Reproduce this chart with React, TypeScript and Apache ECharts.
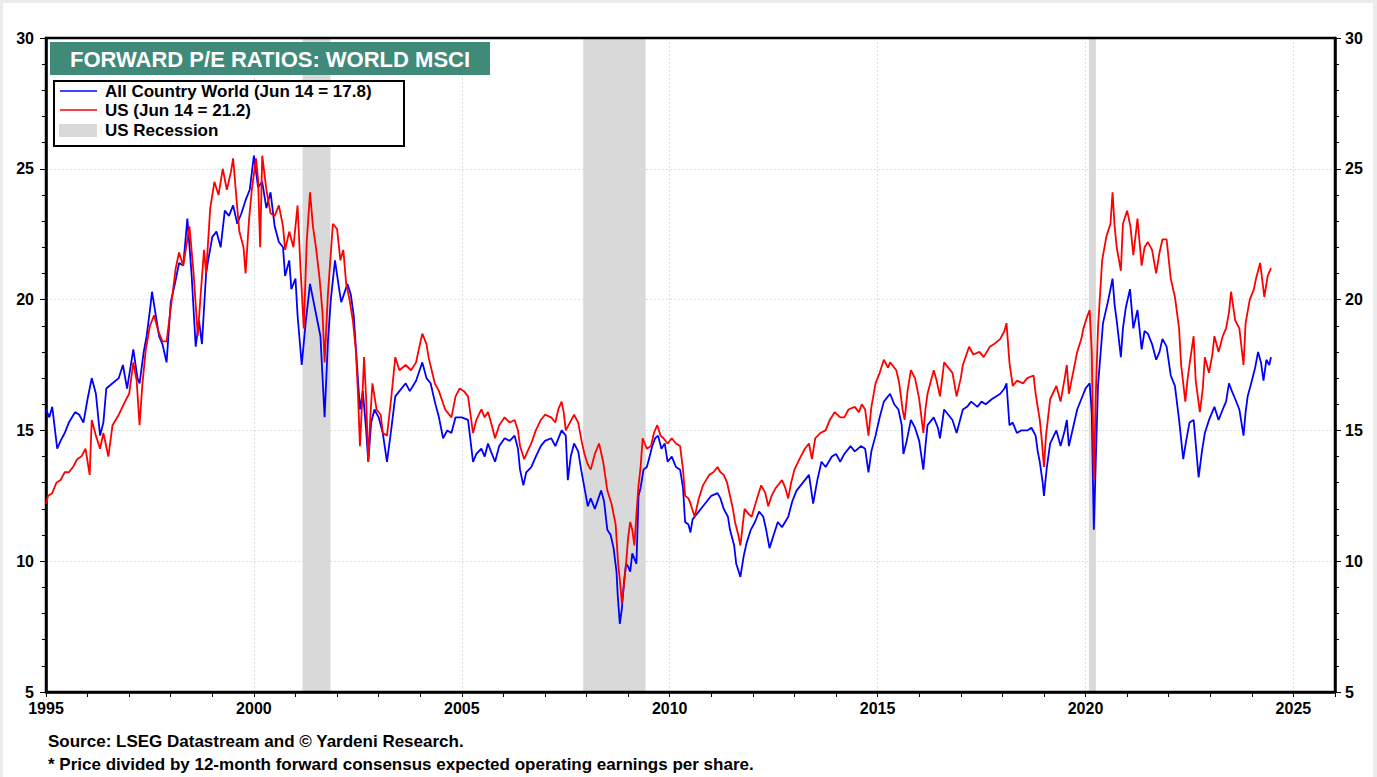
import React, { useEffect, useRef } from "react";
import * as echarts from "echarts";

// ---------- DATA (decimal year, forward P/E) ----------
const acwPoints: [number, number][] = [
  [1995.0, 15.8], [1995.08, 15.5], [1995.15, 15.9], [1995.27, 14.3], [1995.35, 14.6], [1995.45, 14.9], [1995.55, 15.3], [1995.7, 15.7], [1995.8, 15.6], [1995.9, 15.3],
  [1996.0, 16.2], [1996.1, 17.0], [1996.2, 16.4], [1996.3, 14.8], [1996.38, 15.3], [1996.45, 16.6], [1996.6, 16.8], [1996.75, 17.0], [1996.85, 17.5], [1996.95, 16.6],
  [1997.1, 18.1], [1997.2, 17.0], [1997.25, 16.8], [1997.35, 18.0], [1997.42, 18.6], [1997.5, 19.6], [1997.55, 20.3], [1997.6, 19.8], [1997.72, 18.6], [1997.8, 18.3], [1997.9, 17.6],
  [1998.0, 19.9], [1998.1, 20.6], [1998.2, 21.4], [1998.3, 21.3], [1998.4, 23.1], [1998.5, 21.0], [1998.6, 18.2], [1998.68, 19.2], [1998.75, 18.3], [1998.85, 21.0], [1998.9, 21.5],
  [1999.0, 22.4], [1999.1, 22.6], [1999.2, 22.0], [1999.3, 23.4], [1999.4, 23.2], [1999.5, 23.6], [1999.6, 22.9], [1999.7, 23.3], [1999.8, 23.8], [1999.9, 24.2],
  [2000.0, 25.5], [2000.1, 24.3], [2000.2, 24.5], [2000.3, 23.5], [2000.4, 24.1], [2000.5, 22.8], [2000.6, 22.2], [2000.7, 22.0], [2000.75, 20.9], [2000.85, 21.5], [2000.9, 20.4],
  [2001.0, 20.8], [2001.05, 19.4], [2001.15, 17.5], [2001.25, 19.2], [2001.35, 20.6], [2001.45, 19.8], [2001.5, 19.4], [2001.6, 18.6], [2001.7, 15.5], [2001.78, 18.4], [2001.85, 20.0], [2001.95, 21.5],
  [2002.05, 20.4], [2002.1, 19.9], [2002.25, 20.6], [2002.33, 20.2], [2002.4, 19.4], [2002.48, 17.5], [2002.55, 15.8], [2002.62, 16.5], [2002.7, 15.0], [2002.75, 13.8], [2002.82, 15.3], [2002.9, 15.8],
  [2003.0, 15.5], [2003.1, 14.9], [2003.2, 13.8], [2003.3, 15.0], [2003.4, 16.3], [2003.5, 16.5], [2003.65, 16.8], [2003.75, 16.5], [2003.9, 16.9],
  [2004.05, 17.6], [2004.15, 17.0], [2004.25, 16.8], [2004.35, 16.1], [2004.45, 15.5], [2004.55, 14.7], [2004.65, 15.0], [2004.75, 14.9], [2004.85, 15.5],
  [2005.0, 15.5], [2005.15, 15.4], [2005.27, 13.8], [2005.35, 14.1], [2005.47, 14.3], [2005.55, 14.0], [2005.63, 14.5], [2005.7, 14.2], [2005.8, 13.8], [2005.9, 14.4],
  [2006.03, 14.7], [2006.15, 14.6], [2006.27, 14.8], [2006.35, 14.3], [2006.4, 13.5], [2006.48, 12.9], [2006.55, 13.4], [2006.67, 13.6], [2006.78, 14.0], [2006.9, 14.4],
  [2007.0, 14.6], [2007.15, 14.7], [2007.25, 14.4], [2007.4, 15.0], [2007.5, 14.8], [2007.55, 13.1], [2007.62, 14.0], [2007.7, 14.5], [2007.8, 14.2], [2007.87, 13.5], [2007.95, 12.8],
  [2008.03, 12.1], [2008.1, 12.4], [2008.2, 12.0], [2008.35, 12.7], [2008.42, 12.3], [2008.5, 11.2], [2008.58, 11.0], [2008.65, 10.5], [2008.72, 9.6], [2008.75, 8.7], [2008.8, 7.6], [2008.85, 8.2], [2008.9, 9.2], [2008.95, 9.9],
  [2009.0, 9.8], [2009.05, 9.6], [2009.1, 10.3], [2009.15, 10.1], [2009.2, 9.9], [2009.25, 12.5], [2009.3, 12.8], [2009.37, 13.5], [2009.45, 13.6], [2009.5, 13.9], [2009.58, 14.4], [2009.65, 14.7], [2009.72, 14.8], [2009.8, 14.3], [2009.88, 14.5], [2009.95, 13.8],
  [2010.05, 14.0], [2010.15, 13.6], [2010.25, 13.5], [2010.32, 12.8], [2010.37, 11.5], [2010.45, 11.4], [2010.5, 11.1], [2010.55, 11.6], [2010.6, 11.7], [2010.7, 11.9], [2010.8, 12.1], [2010.9, 12.3],
  [2011.0, 12.5], [2011.15, 12.6], [2011.22, 12.4], [2011.3, 12.0], [2011.4, 11.7], [2011.45, 11.2], [2011.55, 10.6], [2011.6, 9.9], [2011.7, 9.4], [2011.78, 10.2], [2011.85, 10.7], [2011.95, 11.2],
  [2012.05, 11.5], [2012.15, 11.9], [2012.25, 11.7], [2012.32, 11.2], [2012.4, 10.5], [2012.5, 11.0], [2012.6, 11.5], [2012.7, 11.3], [2012.85, 11.7], [2012.95, 12.3],
  [2013.05, 12.7], [2013.15, 12.9], [2013.25, 13.1], [2013.35, 13.3], [2013.45, 12.2], [2013.55, 13.1], [2013.65, 13.8], [2013.75, 13.6], [2013.9, 14.0],
  [2014.0, 14.1], [2014.1, 13.8], [2014.2, 14.1], [2014.35, 14.4], [2014.45, 14.2], [2014.6, 14.4], [2014.7, 14.3], [2014.78, 13.4], [2014.85, 14.2], [2014.95, 14.8],
  [2015.05, 15.5], [2015.15, 16.1], [2015.3, 16.4], [2015.4, 16.0], [2015.5, 15.8], [2015.58, 15.2], [2015.62, 14.1], [2015.7, 14.6], [2015.8, 15.4], [2015.9, 15.1],
  [2016.0, 14.6], [2016.1, 13.5], [2016.15, 14.4], [2016.2, 15.2], [2016.35, 15.5], [2016.45, 15.1], [2016.5, 14.7], [2016.6, 15.8], [2016.7, 15.6], [2016.8, 15.4], [2016.9, 14.9],
  [2017.05, 15.8], [2017.15, 15.9], [2017.25, 16.1], [2017.4, 15.9], [2017.5, 16.1], [2017.6, 16.0], [2017.75, 16.2], [2017.85, 16.3], [2017.95, 16.4],
  [2018.05, 16.6], [2018.1, 16.8], [2018.17, 15.2], [2018.25, 15.3], [2018.35, 14.9], [2018.45, 15.0], [2018.6, 15.0], [2018.7, 15.1], [2018.8, 14.8], [2018.85, 14.2], [2018.9, 13.8], [2018.97, 13.0],
  [2019.0, 12.5], [2019.07, 13.6], [2019.15, 14.5], [2019.3, 15.0], [2019.4, 14.4], [2019.5, 15.0], [2019.55, 15.4], [2019.6, 14.4], [2019.7, 15.1], [2019.8, 15.8], [2019.9, 16.2],
  [2020.0, 16.6], [2020.1, 16.8], [2020.15, 15.7], [2020.2, 11.2], [2020.25, 14.0], [2020.3, 16.7], [2020.42, 19.1], [2020.55, 20.0], [2020.65, 20.8], [2020.7, 19.8], [2020.75, 19.2], [2020.85, 17.8], [2020.9, 18.9], [2020.97, 19.7],
  [2021.07, 20.4], [2021.15, 18.9], [2021.25, 19.6], [2021.35, 18.1], [2021.42, 18.8], [2021.5, 18.7], [2021.6, 18.3], [2021.7, 17.7], [2021.78, 18.0], [2021.85, 18.5], [2021.95, 18.2],
  [2022.05, 17.1], [2022.15, 16.7], [2022.25, 15.4], [2022.35, 13.9], [2022.42, 14.6], [2022.5, 15.3], [2022.6, 15.4], [2022.65, 14.5], [2022.72, 13.2], [2022.8, 14.2], [2022.87, 14.9], [2022.97, 15.4],
  [2023.1, 15.9], [2023.2, 15.4], [2023.3, 15.8], [2023.38, 16.1], [2023.45, 16.8], [2023.52, 16.5], [2023.6, 16.2], [2023.7, 15.8], [2023.8, 14.8], [2023.85, 15.7], [2023.9, 16.3],
  [2024.0, 16.9], [2024.08, 17.4], [2024.15, 18.0], [2024.22, 17.6], [2024.28, 16.9], [2024.35, 17.7], [2024.42, 17.5], [2024.46, 17.8],
];

const usPoints: [number, number][] = [
  [1995.0, 12.2], [1995.05, 12.5], [1995.15, 12.6], [1995.25, 13.0], [1995.35, 13.1], [1995.45, 13.4], [1995.55, 13.4], [1995.65, 13.6], [1995.75, 13.9], [1995.85, 14.0], [1995.95, 14.3],
  [1996.05, 13.3], [1996.1, 15.4], [1996.2, 14.8], [1996.3, 14.3], [1996.38, 14.9], [1996.5, 14.0], [1996.6, 15.2], [1996.75, 15.6], [1996.9, 16.1],
  [1997.0, 16.4], [1997.1, 17.6], [1997.18, 16.9], [1997.25, 15.2], [1997.32, 16.8], [1997.4, 18.1], [1997.5, 19.0], [1997.6, 19.4], [1997.7, 18.8], [1997.8, 18.4], [1997.9, 18.4],
  [1998.05, 20.3], [1998.12, 21.2], [1998.2, 21.8], [1998.3, 21.3], [1998.45, 22.8], [1998.55, 21.0], [1998.65, 18.6], [1998.72, 20.2], [1998.8, 21.9], [1998.85, 21.0], [1998.95, 23.5],
  [1999.05, 24.5], [1999.15, 24.0], [1999.25, 25.0], [1999.35, 24.2], [1999.45, 24.9], [1999.5, 25.4], [1999.6, 23.5], [1999.65, 22.6], [1999.75, 22.0], [1999.8, 21.0], [1999.88, 23.0], [1999.95, 24.2],
  [2000.05, 25.4], [2000.1, 24.6], [2000.15, 22.0], [2000.2, 25.5], [2000.3, 24.2], [2000.4, 23.3], [2000.5, 23.2], [2000.6, 23.6], [2000.7, 22.8], [2000.75, 21.9], [2000.85, 22.6], [2000.95, 22.0],
  [2001.05, 23.6], [2001.12, 21.2], [2001.2, 18.9], [2001.27, 22.2], [2001.35, 24.1], [2001.42, 22.8], [2001.5, 21.9], [2001.58, 20.8], [2001.65, 19.5], [2001.7, 17.6], [2001.78, 20.2], [2001.9, 22.9],
  [2002.0, 22.7], [2002.08, 21.5], [2002.15, 21.9], [2002.22, 20.6], [2002.3, 20.0], [2002.38, 19.2], [2002.45, 18.1], [2002.5, 16.5], [2002.55, 14.4], [2002.6, 16.0], [2002.65, 17.8], [2002.7, 16.2], [2002.75, 13.8], [2002.8, 15.5], [2002.85, 16.8], [2002.95, 15.8],
  [2003.05, 15.6], [2003.1, 14.9], [2003.2, 14.8], [2003.3, 16.2], [2003.4, 17.8], [2003.5, 17.3], [2003.65, 17.5], [2003.78, 17.3], [2003.9, 17.6], [2003.98, 18.2],
  [2004.05, 18.7], [2004.15, 18.3], [2004.2, 17.8], [2004.35, 16.8], [2004.45, 16.5], [2004.6, 15.8], [2004.75, 15.5], [2004.85, 16.3], [2004.95, 16.6],
  [2005.05, 16.5], [2005.15, 16.3], [2005.27, 14.9], [2005.35, 15.4], [2005.47, 15.8], [2005.55, 15.5], [2005.63, 15.7], [2005.72, 15.2], [2005.8, 14.7], [2005.9, 15.2],
  [2006.03, 15.5], [2006.15, 15.3], [2006.27, 15.4], [2006.35, 15.0], [2006.4, 14.4], [2006.5, 13.9], [2006.58, 14.2], [2006.67, 14.5], [2006.78, 15.0], [2006.9, 15.4],
  [2007.0, 15.6], [2007.15, 15.5], [2007.25, 15.3], [2007.32, 15.8], [2007.4, 16.1], [2007.45, 15.7], [2007.5, 15.0], [2007.6, 15.3], [2007.7, 15.6], [2007.8, 15.3], [2007.88, 14.6], [2007.95, 14.1],
  [2008.03, 13.7], [2008.1, 13.5], [2008.2, 14.1], [2008.3, 14.5], [2008.4, 13.8], [2008.5, 12.7], [2008.6, 12.2], [2008.7, 11.4], [2008.76, 9.9], [2008.8, 9.3], [2008.85, 8.4], [2008.9, 9.1], [2008.95, 9.9],
  [2009.0, 10.9], [2009.05, 11.5], [2009.1, 11.2], [2009.15, 10.6], [2009.2, 11.8], [2009.25, 12.9], [2009.3, 13.6], [2009.35, 14.7], [2009.45, 14.3], [2009.55, 14.4], [2009.62, 14.9], [2009.7, 15.2], [2009.78, 14.8], [2009.85, 14.7], [2009.95, 14.5],
  [2010.05, 14.7], [2010.15, 14.5], [2010.25, 14.4], [2010.32, 13.5], [2010.37, 12.5], [2010.45, 12.4], [2010.5, 12.2], [2010.6, 11.7], [2010.7, 12.4], [2010.8, 12.9], [2010.95, 13.3],
  [2011.05, 13.4], [2011.15, 13.6], [2011.22, 13.4], [2011.3, 13.3], [2011.38, 13.0], [2011.45, 12.5], [2011.52, 12.0], [2011.57, 11.5], [2011.65, 11.0], [2011.7, 10.6], [2011.75, 11.3], [2011.8, 12.0], [2011.9, 11.8], [2011.97, 11.7],
  [2012.1, 12.4], [2012.2, 12.9], [2012.3, 12.6], [2012.37, 12.1], [2012.45, 12.5], [2012.55, 12.8], [2012.7, 13.1], [2012.78, 12.8], [2012.85, 12.4], [2012.92, 13.0],
  [2013.0, 13.5], [2013.12, 13.9], [2013.25, 14.3], [2013.35, 14.5], [2013.42, 13.9], [2013.5, 14.7], [2013.62, 14.9], [2013.75, 15.0], [2013.85, 15.4], [2013.97, 15.7],
  [2014.1, 15.5], [2014.2, 15.5], [2014.3, 15.8], [2014.45, 15.9], [2014.55, 15.7], [2014.62, 16.0], [2014.7, 15.8], [2014.78, 14.8], [2014.85, 15.9], [2014.95, 16.8],
  [2015.05, 17.2], [2015.15, 17.7], [2015.25, 17.4], [2015.3, 17.6], [2015.45, 17.3], [2015.52, 16.8], [2015.6, 15.8], [2015.65, 15.4], [2015.72, 16.5], [2015.8, 17.3], [2015.9, 17.0],
  [2016.0, 16.2], [2016.1, 14.9], [2016.15, 15.8], [2016.2, 16.4], [2016.35, 17.3], [2016.42, 16.9], [2016.5, 16.3], [2016.6, 17.6], [2016.7, 17.4], [2016.8, 17.2], [2016.9, 16.3],
  [2017.0, 17.0], [2017.05, 17.5], [2017.2, 18.2], [2017.3, 17.9], [2017.45, 18.0], [2017.55, 17.8], [2017.7, 18.2], [2017.8, 18.3], [2017.95, 18.5],
  [2018.05, 18.8], [2018.1, 19.1], [2018.17, 17.6], [2018.25, 16.7], [2018.35, 16.9], [2018.5, 16.8], [2018.6, 17.0], [2018.75, 17.1], [2018.8, 16.4], [2018.9, 15.4], [2018.95, 14.6],
  [2019.0, 13.6], [2019.05, 14.8], [2019.15, 16.2], [2019.3, 16.7], [2019.4, 16.1], [2019.5, 17.0], [2019.55, 17.5], [2019.6, 16.4], [2019.7, 17.2], [2019.8, 18.0], [2019.9, 18.5], [2019.95, 18.9],
  [2020.05, 19.4], [2020.1, 19.6], [2020.15, 18.0], [2020.2, 13.1], [2020.25, 16.5], [2020.3, 18.9], [2020.4, 21.5], [2020.5, 22.4], [2020.6, 22.9], [2020.65, 24.1], [2020.7, 22.8], [2020.75, 22.0], [2020.85, 21.1], [2020.9, 22.9],
  [2021.0, 23.4], [2021.08, 22.8], [2021.15, 21.7], [2021.25, 23.1], [2021.35, 21.3], [2021.42, 22.0], [2021.5, 22.2], [2021.6, 21.9], [2021.7, 21.0], [2021.78, 21.8], [2021.85, 22.3], [2021.95, 22.3],
  [2022.05, 20.8], [2022.15, 20.1], [2022.25, 18.9], [2022.3, 17.5], [2022.4, 16.1], [2022.45, 16.9], [2022.5, 17.5], [2022.6, 18.6], [2022.65, 16.9], [2022.75, 15.7], [2022.82, 16.6], [2022.87, 17.8], [2022.97, 17.2],
  [2023.05, 17.9], [2023.1, 18.6], [2023.2, 18.0], [2023.3, 18.6], [2023.38, 18.9], [2023.45, 19.5], [2023.5, 20.3], [2023.6, 19.2], [2023.7, 18.9], [2023.8, 17.5], [2023.85, 19.1], [2023.95, 20.0],
  [2024.05, 20.4], [2024.1, 20.8], [2024.2, 21.4], [2024.3, 20.1], [2024.38, 20.9], [2024.46, 21.2],
];

const recessions: [number, number][] = [
  [2001.17, 2001.84],
  [2007.92, 2009.42],
  [2020.08, 2020.25],
];

const yTicks = [5, 10, 15, 20, 25, 30];
const xRange = [1995, 2026];

const titleText = "FORWARD P/E RATIOS: WORLD MSCI";
const legendLabels = [
  "All Country World (Jun 14 = 17.8)",
  "US (Jun 14 = 21.2)",
  "US Recession",
];
const footnotes = [
  "Source: LSEG Datastream and © Yardeni Research.",
  "* Price divided by 12-month forward consensus expected operating earnings per share.",
];

const BLUE = "#0000ff";
const RED = "#ff0000";
const GREY = "#d9d9d9";
const FONT = "'Liberation Sans', Arial, Helvetica, sans-serif";

export default function App() {
  const ref = useRef<HTMLDivElement>(null);

  useEffect(() => {
    document.body.style.margin = "0";
    if (!ref.current) return;
    const chart = echarts.init(ref.current, undefined, { renderer: "svg" });

    const labelStyle = {
      color: "#000",
      fontFamily: FONT,
      fontWeight: "bold" as const,
      fontSize: 16,
    };

    const yAxisBase = {
      type: "value" as const,
      min: yTicks[0],
      max: yTicks[yTicks.length - 1],
      interval: 5,
      axisLine: { show: true, lineStyle: { color: "#000", width: 2.5 } },
      axisTick: { show: true, length: 6, lineStyle: { color: "#000", width: 1 } },
      minorTick: { show: true, splitNumber: 5, length: 4, lineStyle: { color: "#000", width: 1 } },
    };

    const option: any = {
      animation: false,
      backgroundColor: "#ebebeb",
      grid: {
        left: 46,
        right: 42,
        top: 38,
        bottom: 85,
        show: true,
        borderColor: "#000",
        borderWidth: 2.5,
        backgroundColor: "transparent",
        z: 3,
      },
      xAxis: [
        {
          type: "value",
          min: xRange[0],
          max: xRange[1],
          interval: 1,
          axisLine: { show: true, onZero: false, lineStyle: { color: "#000", width: 2.5 } },
          axisTick: { show: true, length: 5, lineStyle: { color: "#000", width: 1 } },
          axisLabel: {
            ...labelStyle,
            margin: 8,
            formatter: (v: number) => (v % 5 === 0 ? String(v) : ""),
          },
          splitLine: { show: false },
        },
        {
          type: "value",
          min: xRange[0],
          max: xRange[1],
          interval: 5,
          position: "bottom",
          axisLine: { show: false },
          axisTick: { show: false },
          axisLabel: { show: false },
          splitLine: { show: true, lineStyle: { color: "#dcdcdc", type: [2, 2], width: 1 } },
        },
      ],
      yAxis: [
        {
          ...yAxisBase,
          position: "left",
          axisLabel: { ...labelStyle, margin: 12 },
          splitLine: { show: true, lineStyle: { color: "#dcdcdc", type: [2, 2], width: 1 } },
        },
        {
          ...yAxisBase,
          position: "right",
          axisLabel: { ...labelStyle, margin: 10 },
          splitLine: { show: false },
        },
      ],
      series: [
        {
          name: "US Recession",
          type: "line",
          data: [],
          z: 1,
          silent: true,
          markArea: {
            silent: true,
            itemStyle: { color: GREY },
            data: recessions.map(([a, b]) => [{ xAxis: a }, { xAxis: b }]),
          },
        },
        {
          name: legendLabels[0],
          type: "line",
          data: acwPoints,
          showSymbol: false,
          lineStyle: { color: BLUE, width: 1.8 },
          itemStyle: { color: BLUE },
          z: 4,
        },
        {
          name: legendLabels[1],
          type: "line",
          data: usPoints,
          showSymbol: false,
          lineStyle: { color: RED, width: 1.8 },
          itemStyle: { color: RED },
          z: 5,
        },
      ],
      graphic: [
        {
          type: "rect",
          left: 3,
          top: 3,
          shape: { width: 1370, height: 774 },
          style: { fill: "#ffffff" },
          z: -10,
          silent: true,
        },
        {
          type: "rect",
          left: 50,
          top: 42,
          shape: { width: 440, height: 33 },
          style: { fill: "#3f8a78" },
          z: 20,
        },
        {
          type: "text",
          x: 70,
          y: 59,
          style: {
            text: titleText,
            fill: "#ffffff",
            font: `bold 22px ${FONT}`,
            verticalAlign: "middle",
          },
          z: 21,
        },
        {
          type: "rect",
          left: 53,
          top: 80,
          shape: { width: 350, height: 65 },
          style: { fill: "#ffffff", stroke: "#000", lineWidth: 2 },
          z: 20,
        },
        {
          type: "line",
          shape: { x1: 60, y1: 91, x2: 97, y2: 91 },
          style: { stroke: BLUE, lineWidth: 1.5 },
          z: 21,
        },
        {
          type: "line",
          shape: { x1: 60, y1: 110, x2: 97, y2: 110 },
          style: { stroke: RED, lineWidth: 1.5 },
          z: 21,
        },
        {
          type: "rect",
          left: 59,
          top: 124,
          shape: { width: 38, height: 13 },
          style: { fill: GREY },
          z: 21,
        },
        ...legendLabels.map((t, i) => ({
          type: "text",
          x: 105,
          y: 91 + i * 19.5,
          style: { text: t, fill: "#000", font: `bold 17px ${FONT}`, verticalAlign: "middle" },
          z: 21,
        })),
        ...footnotes.map((t, i) => ({
          type: "text",
          x: 48,
          y: 741 + i * 23,
          style: { text: t, fill: "#000", font: `bold 17px ${FONT}`, verticalAlign: "middle" },
          z: 21,
        })),
      ],
    };

    chart.setOption(option);
    return () => chart.dispose();
  }, []);

  return <div ref={ref} style={{ width: 1377, height: 777 }} />;
}
